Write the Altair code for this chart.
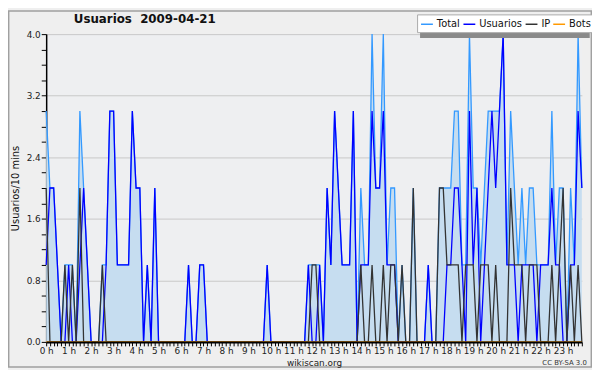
import altair as alt
import pandas as pd

# 10-minute slots over the day (0..143)
slots = list(range(144))

total = [3,2,2,1,0,1,1,1,0,3,
         2,1,0,0,0,1,1,3,3,1,
         1,1,1,3,2,2,0,1,0,2,
         0,0,0,0,0,0,0,0,1,0,
         0,1,1,0,0,0,0,0,0,0,
         0,0,0,0,0,0,0,0,0,1,
         0,0,0,0,0,0,0,0,0,0,
         1,1,1,1,0,2,1,3,2,1,
         1,1,3,0,2,1,1,4,2,2,
         4,1,2,2,0,1,0,0,2,0,
         0,0,1,0,0,2,2,2,2,3,
         3,1,1,4,2,2,1,2,3,3,
         3,3,4,1,3,2,1,2,1,2,
         2,1,1,1,1,3,1,2,2,0,
         2,1,4,2]

usuarios = [1,2,2,1,0,0,1,0,0,1,
            2,1,0,0,0,0,1,3,3,1,
            1,1,1,3,2,2,0,1,0,2,
            0,0,0,0,0,0,0,0,1,0,
            0,1,1,0,0,0,0,0,0,0,
            0,0,0,0,0,0,0,0,0,1,
            0,0,0,0,0,0,0,0,0,0,
            1,0,0,1,0,2,1,3,2,1,
            1,1,3,0,1,1,1,3,2,2,
            3,1,1,1,0,0,0,0,0,0,
            0,0,1,0,0,0,0,1,1,2,
            2,1,0,3,1,2,0,1,2,3,
            2,3,4,1,1,1,0,1,1,1,
            1,0,1,1,1,2,1,1,0,0,
            1,1,3,2]

ip = [2,0,0,0,0,1,0,1,0,2,
      0,0,0,0,0,1,0,0,0,0,
      0,0,0,0,0,0,0,0,0,0,
      0,0,0,0,0,0,0,0,0,0,
      0,0,0,0,0,0,0,0,0,0,
      0,0,0,0,0,0,0,0,0,0,
      0,0,0,0,0,0,0,0,0,0,
      0,1,1,0,0,0,0,0,0,0,
      0,0,0,0,1,0,0,1,0,0,
      1,0,1,1,0,1,0,0,2,0,
      0,0,0,0,0,2,2,1,1,1,
      1,0,1,1,1,0,1,1,1,0,
      1,0,0,0,2,1,1,1,0,1,
      1,1,0,0,0,1,0,1,2,0,
      1,0,1,0]

bots = [0] * 144

series_names = ["Total", "Usuarios", "IP", "Bots"]
series_colors = ["#3399ff", "#0000ff", "#333333", "#ff9900"]

chart_title = "Usuarios\u00a0 2009-04-21"
y_title = "Usuarios/10 mins"
x_title = "wikiscan.org"
license_text = "CC BY-SA 3.0"

rows = []
for name, vals in zip(series_names, [total, usuarios, ip, bots]):
    for s, v in zip(slots, vals):
        rows.append({"slot": s, "serie": name, "valor": v})
df = pd.DataFrame(rows)
df_total = pd.DataFrame({"slot": slots, "valor": total})

FONT = "DejaVu Sans"

x_axis = alt.Axis(values=slots,
                  labelExpr="datum.value % 6 == 0 ? floor(datum.value / 6) + ' h\u00a0\u00a0' : ''",
                  title=x_title, titleFontSize=9, titleFontWeight="normal",
                  titleFont=FONT, titleColor="#222", titlePadding=3,
                  labelFont=FONT, labelFontSize=9, labelColor="#222",
                  labelAngle=0, labelAlign="center", labelPadding=1,
                  labelOverlap=False, labelFlush=False, labelBound=False,
                  tickSize=4, tickColor="#000", tickWidth=1,
                  domainColor="#000", domainWidth=2, grid=False, zindex=1)
x_scale = alt.Scale(domain=[0, 143], nice=False, zero=False)

y_vals = [round(0.2 * k, 1) for k in range(21)]
y_axis = alt.Axis(values=y_vals,
                  labelExpr="round(datum.value * 5) % 4 == 0 ? format(datum.value, '.1f') : ''",
                  gridOpacity={"condition": {"test": "round(datum.value * 5) % 4 == 0", "value": 1}, "value": 0},
                  gridColor="#c8c8c8", gridWidth=1,
                  title=y_title, titleFontSize=10, titleFontWeight="normal",
                  titleFont=FONT, titleColor="#111", titlePadding=6,
                  labelFont=FONT, labelFontSize=9, labelColor="#222", labelPadding=1,
                  labelOverlap=False,
                  tickSize=5, tickColor="#000", tickWidth=1,
                  domainColor="#000", domainWidth=1.5)
y_scale = alt.Scale(domain=[0, 4], nice=False)

area = alt.Chart(df_total).mark_area(color="#c6ddf0", opacity=1, interpolate="linear").encode(
    x=alt.X("slot:Q", scale=x_scale, axis=x_axis),
    y=alt.Y("valor:Q", scale=y_scale, axis=y_axis))

lines = alt.Chart(df).mark_line(strokeWidth=1.3, interpolate="linear").encode(
    x=alt.X("slot:Q", scale=x_scale, axis=x_axis),
    y=alt.Y("valor:Q", scale=y_scale, axis=y_axis),
    color=alt.Color("serie:N", scale=alt.Scale(domain=series_names, range=series_colors),
                    legend=alt.Legend(orient="none", legendX=376, legendY=-20,
                                      direction="horizontal", title=None,
                                      symbolType="stroke", symbolSize=144, symbolStrokeWidth=1.5,
                                      labelFont=FONT, labelFontSize=10, labelColor="#111",
                                      labelOffset=3, columnPadding=0, padding=3,
                                      fillColor="#ffffff", strokeColor="#aaaaaa")))

one = pd.DataFrame({"k": [0]})
shadow = alt.Chart(one).mark_rect(color="#8a8a8a").encode(
    x=alt.value(379), x2=alt.value(551), y=alt.value(-17), y2=alt.value(4))
border = alt.Chart(one).mark_rect(fill=None, stroke="#a0a0a0", strokeWidth=1.5).encode(
    x=alt.value(-38), x2=alt.value(552.6), y=alt.value(-23.5), y2=alt.value(337.5))
lic = alt.Chart(one).mark_text(text=license_text, font=FONT, fontSize=7, color="#333",
                               align="right", baseline="middle").encode(
    x=alt.value(548), y=alt.value(333))
ttl = alt.Chart(one).mark_text(text=chart_title, font=FONT, fontSize=12, fontWeight="bold",
                               color="#111", align="left", baseline="alphabetic").encode(
    x=alt.value(28), y=alt.value(-11))

chart = alt.layer(border, area, lines, shadow, lic, ttl).properties(
    width=543, height=312,
    autosize="none",
    padding={"left": 38.7, "top": 24, "right": 10.3, "bottom": 26},
    background="#efefef",
).configure_view(fill="#eeeff1", strokeWidth=0)

chart.save("out.html", embed_options={"renderer": "svg", "actions": False})
